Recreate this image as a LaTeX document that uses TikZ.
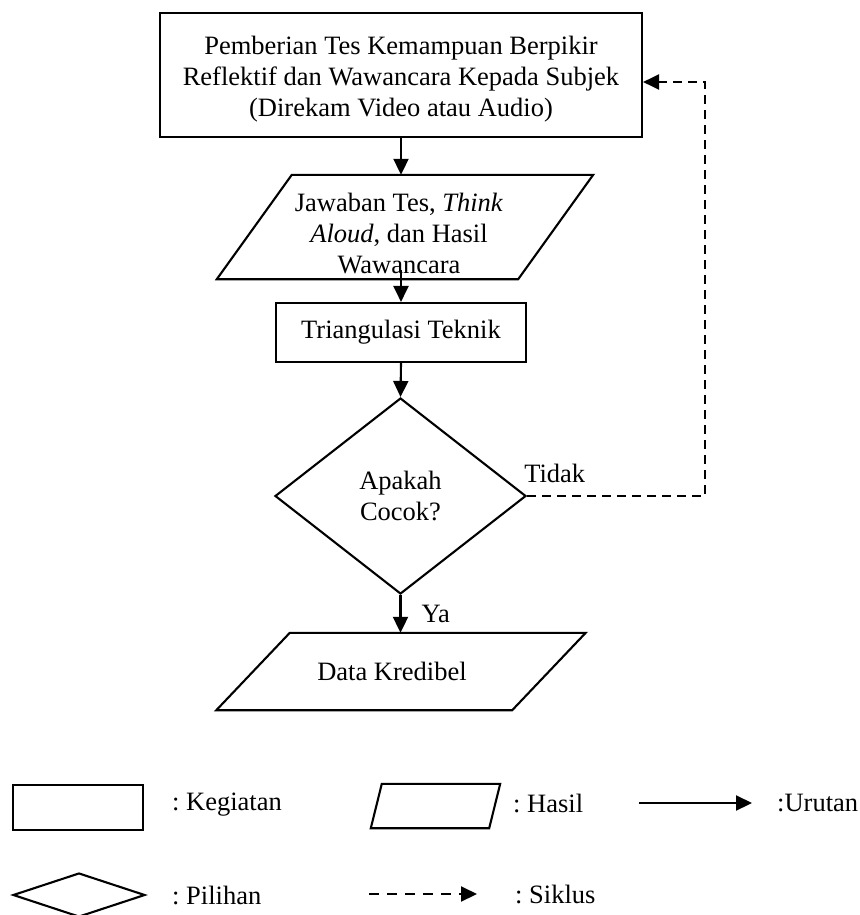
\documentclass[tikz,border=0pt]{standalone}
\usepackage{fontspec}
\setmainfont{Liberation Serif}
\usetikzlibrary{shapes.geometric,arrows.meta,calc}
\frenchspacing
\begin{document}
\begin{tikzpicture}[x=1pt,y=-1pt,
  every node/.style={font=\fontsize{26.5}{31}\selectfont},
  kotak/.style={draw, line width=2.1pt, rectangle, inner sep=0pt, align=center},
  jajar/.style={inner sep=0pt, align=center},
  belah/.style={draw, line width=2.1pt, diamond, inner sep=0pt, align=center},
  panah/.style={line width=2.1pt, -{Triangle[length=16pt,width=15pt]}},
  putus/.style={line width=2.1pt, dash pattern=on 9pt off 6pt, -{Triangle[length=16pt,width=15pt]}},
  lbl/.style={anchor=west, inner sep=0pt}]
\useasboundingbox (0,0) rectangle (859,915);

% flowchart
\node[kotak, minimum width=482pt, minimum height=124pt,
  label={[align=center, yshift=-4pt]center:Pemberian Tes Kemampuan Berpikir\\Reflektif dan Wawancara Kepada Subjek\\(Direkam Video atau Audio)}] (top) at (401,75) {};

\node[jajar, minimum width=301pt, minimum height=104pt,
  label={[align=center, xshift=-6pt, yshift=-7pt]center:Jawaban Tes, \textit{Think}\\\textit{Aloud}, dan Hasil\\Wawancara}] (hasil1) at (405,227) {};
\draw[line width=2.1pt] ([xshift=37.5pt]hasil1.north west) -- ([xshift=37.5pt]hasil1.north east)
  -- ([xshift=-37.5pt]hasil1.south east) -- ([xshift=-37.5pt]hasil1.south west) -- cycle;

\node[kotak, minimum width=250pt, minimum height=59pt] (tri) at (401,332.5) {Triangulasi Teknik};

\node[belah, minimum width=251pt, minimum height=196pt] (dia) at (400.5,496) {Apakah\\Cocok?};

\node[jajar, minimum width=295.5pt, minimum height=77pt,
  label={[xshift=-9pt]center:Data Kredibel}] (dk) at (401,671.5) {};
\draw[line width=2.1pt] ([xshift=36.75pt]dk.north west) -- ([xshift=36.75pt]dk.north east)
  -- ([xshift=-36.75pt]dk.south east) -- ([xshift=-36.75pt]dk.south west) -- cycle;

\draw[panah] (top.south) -- (top.south |- hasil1.north);
\draw[panah] ($(tri.north |- hasil1.south)+(0,-9)$) -- (tri.north);
\draw[panah] (tri.south) -- (dia.north);
\draw[panah] (dia.south) -- (dia.south |- dk.north)
  node[pos=0.5, lbl, xshift=20pt] {Ya};

\node[lbl] (tidak) at ($(dia.east)+(-3,-23)$) {Tidak};
\coordinate (c1) at (705,498);
\coordinate (c2) at (705,82);
\draw[putus] (dia.east) -- (dia.east -| c1) -- (c2) -- (c2 -| top.east);

% legend
\node[kotak, minimum width=130pt, minimum height=45pt] (lgk) at (78,807.5) {};
\node[lbl] (tk) at (172,805) {: Kegiatan};

\node[jajar, minimum width=118pt, minimum height=44pt] (lgh) at (435.5,806) {};
\draw[line width=2.1pt] ([xshift=5.5pt]lgh.north west) -- ([xshift=5.5pt]lgh.north east)
  -- ([xshift=-5.5pt]lgh.south east) -- ([xshift=-5.5pt]lgh.south west) -- cycle;
\node[lbl] (th) at (513,803) {: Hasil};

\coordinate (u1) at (639,803);
\coordinate (u2) at (752,803);
\draw[panah] (u1) -- (u2);
\node[lbl] (tu) at (777,803) {:Urutan};

\node[belah, minimum width=132pt, minimum height=44pt] (lgd) at (79,895) {};
\node[lbl] (tp) at (172,895) {: Pilihan};

\coordinate (s1) at (369,894);
\coordinate (s2) at (477,894);
\draw[line width=2.1pt, dash pattern=on 10pt off 8pt, -{Triangle[length=16pt,width=15pt]}] (s1) -- (s2);
\node[lbl] (ts) at (515,894) {: Siklus};
\end{tikzpicture}
\end{document}
